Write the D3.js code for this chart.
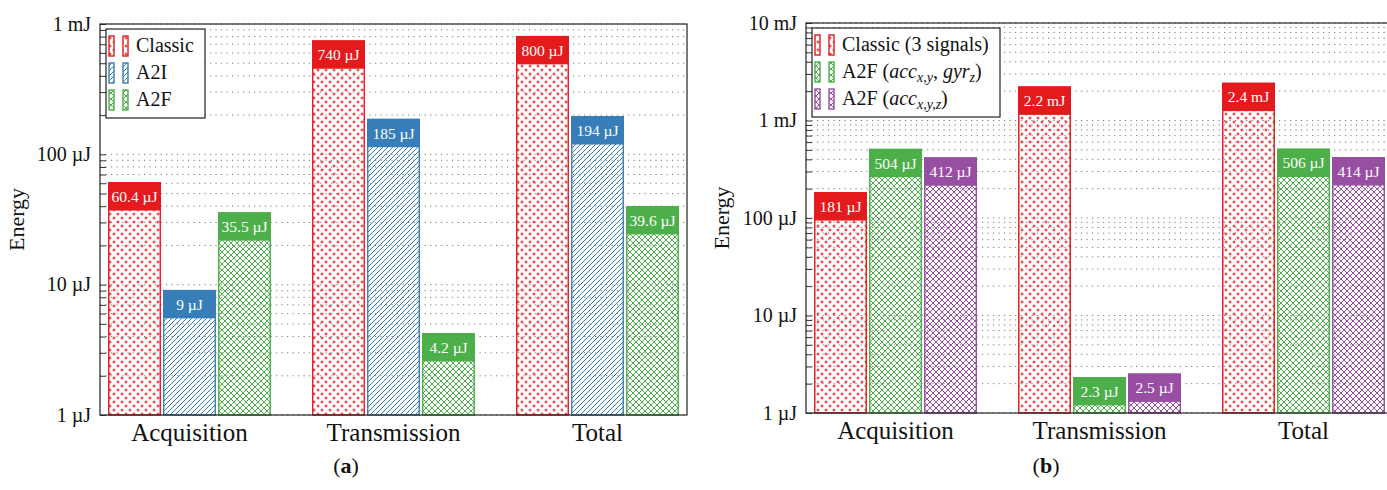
<!DOCTYPE html>
<html><head><meta charset="utf-8">
<script src="https://cdn.jsdelivr.net/npm/d3@7"></script>
<style>
body{margin:0;background:#fff;}
text{font-family:"Liberation Serif","Times New Roman",serif;fill:#111;}
</style></head>
<body><svg id="c" width="1387" height="490"></svg>
<script>
// ---------- data ----------
const categories = ["Acquisition", "Transmission", "Total"];

const seriesA = ["Classic", "A2I", "A2F"];
const classicA = [60.4, 740, 800];      // µJ
const a2iA = [9, 185, 194];
const a2fA = [35.5, 4.2, 39.6];

const seriesB = ["Classic (3 signals)", "A2F (acc_xy, gyr_z)", "A2F (acc_xyz)"];
const classicB = [181, 2200, 2400];     // µJ
const a2fXYGzB = [504, 2.3, 506];
const a2fXYZB = [412, 2.5, 414];

const ticksA = [1, 10, 100, 1000];
const tickLabelsA = ["1 µJ", "10 µJ", "100 µJ", "1 mJ"];
const ticksB = [1, 10, 100, 1000, 10000];
const tickLabelsB = ["1 µJ", "10 µJ", "100 µJ", "1 mJ", "10 mJ"];

// ---------- styles ----------
const C = {red:"#e41a1c", blue:"#377eb8", green:"#4daf4a", purple:"#984ea3"};

const svg = d3.select("#c");
const defs = svg.append("defs");

function dotsPattern(id, col){
  const p = defs.append("pattern").attr("id", id).attr("patternUnits","userSpaceOnUse")
    .attr("width", 8).attr("height", 8);
  [[2,2],[6,6]].forEach(([cx,cy])=>{
    p.append("path").attr("d",`M${cx-1.5},${cy}h3M${cx},${cy-1.5}v3`)
      .attr("stroke", col).attr("stroke-width", 1);
  });
}
function nePattern(id, col){
  const p = defs.append("pattern").attr("id", id).attr("patternUnits","userSpaceOnUse")
    .attr("width", 5).attr("height", 5);
  p.append("path").attr("d","M0,5L5,0M-1,1L1,-1M4,6L6,4")
    .attr("stroke", col).attr("stroke-width", 1);
}
function crossPattern(id, col){
  const p = defs.append("pattern").attr("id", id).attr("patternUnits","userSpaceOnUse")
    .attr("width", 6).attr("height", 6);
  p.append("path").attr("d","M0,0L6,6M0,6L6,0")
    .attr("stroke", col).attr("stroke-width", 1);
}
dotsPattern("pRed", C.red);
nePattern("pBlue", C.blue);
crossPattern("pGreen", C.green);
crossPattern("pPurple", C.purple);

function fmt(v){ return v >= 1000 ? (v/1000) + " mJ" : v + " µJ"; }

function richName(sel, name){
  const sub = (t)=>sel.append("tspan").attr("font-style","italic").attr("font-size","14px").attr("dy",4).text(t);
  if (name === "A2F (acc_xy, gyr_z)"){
    sel.append("tspan").text("A2F (");
    sel.append("tspan").attr("font-style","italic").text("acc");
    sub("x,y");
    sel.append("tspan").attr("dy",-4).text(", ");
    sel.append("tspan").attr("font-style","italic").text("gyr");
    sub("z");
    sel.append("tspan").attr("dy",-4).text(")");
  } else if (name === "A2F (acc_xyz)"){
    sel.append("tspan").text("A2F (");
    sel.append("tspan").attr("font-style","italic").text("acc");
    sub("x,y,z");
    sel.append("tspan").attr("dy",-4).text(")");
  } else sel.text(name);
}

function drawPanel(cfg){
  const g = svg.append("g");
  const y = d3.scaleLog().domain(cfg.domain).range([cfg.y1, cfg.y0]);
  const xc = d3.scalePoint().domain(categories).range(cfg.centers);
  const xs = d3.scalePoint().domain(cfg.series).range([-55, 55]);
  const bw = 51.5;

  // grid (major + minor)
  const gridVals = [];
  for (let d = cfg.domain[0]; d < cfg.domain[1]; d *= 10)
    for (let k = 1; k <= 9; k++) gridVals.push(d*k);
  gridVals.push(cfg.domain[1]);
  g.append("g").selectAll("line").data(gridVals).join("line")
    .attr("x1", cfg.x0).attr("x2", cfg.x1)
    .attr("y1", d=>y(d)).attr("y2", d=>y(d))
    .attr("stroke","#7a7a7a").attr("stroke-width",1).attr("stroke-dasharray","1.2,4.3");

  // bars
  cfg.values.forEach((vals, si)=>{
    const s = cfg.series[si];
    const col = cfg.colors[si];
    const bg = g.append("g");
    const bars = bg.selectAll("g").data(vals.map((v,i)=>({v, c:categories[i]}))).join("g");
    bars.append("rect")
      .attr("x", d=>xc(d.c)+xs(s)-bw/2).attr("width", bw)
      .attr("y", d=>y(d.v)).attr("height", d=>y(cfg.domain[0]) - y(d.v))
      .attr("fill", `url(#${cfg.patterns[si]})`).attr("stroke", col).attr("stroke-width",1.4);
    bars.append("rect")
      .attr("x", d=>xc(d.c)+xs(s)-bw/2).attr("width", bw)
      .attr("y", d=>y(d.v)).attr("height", 27)
      .attr("fill", col).attr("stroke", col).attr("stroke-width",1.4);
    bars.append("text")
      .attr("x", d=>xc(d.c)+xs(s)).attr("y", d=>y(d.v)+19)
      .attr("text-anchor","middle").style("fill","#fff").attr("font-size","15.5px")
      .text(d=>fmt(d.v));
  });

  // axis ticks (left, inside)
  const ax = d3.axisLeft(y).tickValues(gridVals).tickSize(-6).tickFormat("");
  const axg = g.append("g").attr("transform",`translate(${cfg.x0},0)`).call(ax);
  axg.select(".domain").remove();
  axg.selectAll("line").attr("stroke","#333");
  // tick labels
  g.append("g").selectAll("text").data(cfg.ticks).join("text")
    .attr("x", cfg.x0 - 9).attr("y", d=>y(d)).attr("dy","0.33em")
    .attr("text-anchor","end").attr("font-size","20px")
    .text((d,i)=>cfg.tickLabels[i]);

  // frame
  g.append("rect").attr("x", cfg.x0).attr("y", cfg.y0)
    .attr("width", cfg.x1-cfg.x0).attr("height", cfg.y1-cfg.y0)
    .attr("fill","none").attr("stroke","#222").attr("stroke-width",1.2);

  // category labels
  g.append("g").selectAll("text").data(categories).join("text")
    .attr("x", d=>xc(d)).attr("y", cfg.y1 + 26).attr("text-anchor","middle")
    .attr("font-size","25px").text(d=>d);

  // y title
  g.append("text").attr("transform",`translate(${cfg.titleX},${(cfg.y0+cfg.y1)/2}) rotate(-90)`)
    .attr("text-anchor","middle").attr("font-size","22px").text("Energy");

  // legend
  const lg = g.append("g");
  lg.append("rect").attr("x", cfg.x0+6).attr("y", cfg.y0+5)
    .attr("width", cfg.legendW).attr("height", 89)
    .attr("fill","#fff").attr("stroke","#222").attr("stroke-width",1.2);
  cfg.series.forEach((s, i)=>{
    const cy = cfg.y0 + 22 + i*27;
    [0, 14].forEach(off=>{
      lg.append("rect").attr("x", cfg.x0+9+off).attr("y", cy-10).attr("width",5).attr("height",20)
        .attr("fill", `url(#${cfg.patterns[i]})`).attr("stroke", cfg.colors[i]).attr("stroke-width",1.4);
    });
    const t = lg.append("text").attr("x", cfg.x0+36).attr("y", cy+6).attr("font-size","20px");
    richName(t, s);
  });

  // panel caption
  const cap = svg.append("text").attr("x", cfg.capX).attr("y", 473).attr("text-anchor","middle").attr("font-size","22px");
  cap.append("tspan").text("(");
  cap.append("tspan").attr("font-weight","bold").text(cfg.cap);
  cap.append("tspan").text(")");
}

drawPanel({
  x0:100, x1:687, y0:24, y1:415, domain:[1,1000], centers:[189.5, 597.5],
  series: seriesA, values:[classicA, a2iA, a2fA],
  colors:[C.red, C.blue, C.green], patterns:["pRed","pBlue","pGreen"],
  ticks: ticksA, tickLabels: tickLabelsA, titleX: 24, legendW: 99, capX: 346, cap:"a"
});
drawPanel({
  x0:806, x1:1393, y0:23, y1:413, domain:[1,10000], centers:[895.5, 1303.5],
  series: seriesB, values:[classicB, a2fXYGzB, a2fXYZB],
  colors:[C.red, C.green, C.purple], patterns:["pRed","pGreen","pPurple"],
  ticks: ticksB, tickLabels: tickLabelsB, titleX: 729, legendW: 188, capX: 1046, cap:"b"
});
</script></body></html>
